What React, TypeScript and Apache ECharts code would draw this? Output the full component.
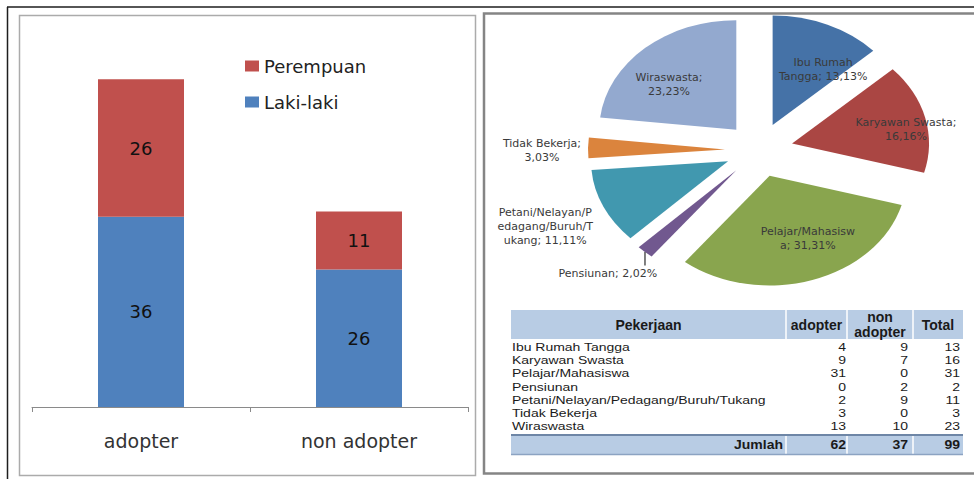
import React, { useEffect, useRef } from 'react';
import * as echarts from 'echarts';

// ---------- data ----------
const barCategories = ['adopter', 'non adopter'];
const lakiLaki = [36, 26];
const perempuan = [26, 11];

const jobs = [
  'Ibu Rumah Tangga',
  'Karyawan Swasta',
  'Pelajar/Mahasiswa',
  'Pensiunan',
  'Petani/Nelayan/Pedagang/Buruh/Tukang',
  'Tidak Bekerja',
  'Wiraswasta',
];
const jobAdopter = [4, 9, 31, 0, 2, 3, 13];
const jobNonAdopter = [9, 7, 0, 2, 9, 0, 10];
const jobTotal = [13, 16, 31, 2, 11, 3, 23];
const tableHeaders = ['Pekerjaan', 'adopter', 'non\nadopter', 'Total'];
const footerLabel = 'Jumlah';

// ---------- styles / layout ----------
const pieColors = ['#4572A7', '#AA4643', '#89A54E', '#71588F', '#4198AF', '#DB843D', '#93A9CF'];
const PIE = { cx: 759, cy: 150, r: 137, k: 0.8, explode: 34 };
const pieLabelLayout = [
  { angle: 32.6, dist: 119, breaks: [9] },
  { angle: 80.3, dist: 149, breaks: [16] },
  { angle: 156.2, dist: 121, breaks: [16] },
  { angle: 224.4, dist: 216, breaks: [], leader: true },
  { angle: 246, dist: 234, breaks: [16, 31] },
  { angle: 270, dist: 217, breaks: [14] },
  { angle: 312.5, dist: 122, breaks: [11] },
];
const FONT = 'DejaVu Sans, sans-serif';
const TFONT = 'Liberation Sans, Arial, sans-serif';

const sum = (a: number[]) => a.reduce((s, v) => s + v, 0);
const grand = sum(jobTotal);

function wrap(s: string, breaks: number[]) {
  const out: string[] = [];
  let prev = 0;
  for (const b of breaks) {
    out.push(s.slice(prev, b).trim());
    prev = b;
  }
  out.push(s.slice(prev).trim());
  return out;
}

const cum: [number, number][] = [];
{
  let acc = 0;
  for (const v of jobTotal) {
    const a0 = (acc / grand) * 360;
    acc += v;
    cum.push([a0, (acc / grand) * 360]);
  }
}

function buildTable() {
  const els: any[] = [];
  const L = 511, R = 963;
  const colR = [786, 847, 913, R];
  const headTop = 310, headH = 29;
  const footTop = 436, footH = 18;
  const rowY0 = 347, rowStep = 13.2;
  const numRight = [846, 908, 960];
  const fill = '#B8CCE4';
  const rowScale = 0.84;
  els.push({ type: 'rect', shape: { x: L, y: headTop, width: R - L, height: headH }, style: { fill } });
  els.push({ type: 'rect', shape: { x: L, y: footTop, width: R - L, height: footH }, style: { fill } });
  for (let c = 0; c < 3; c++) {
    els.push({ type: 'line', shape: { x1: colR[c], y1: headTop, x2: colR[c], y2: headTop + headH }, style: { stroke: '#fff', lineWidth: 1.5 } });
    els.push({ type: 'line', shape: { x1: colR[c], y1: footTop, x2: colR[c], y2: footTop + footH }, style: { stroke: '#fff', lineWidth: 1.5 } });
  }
  els.push({ type: 'line', shape: { x1: L, y1: footTop - 1, x2: R, y2: footTop - 1 }, style: { stroke: '#6E86A6', lineWidth: 2 } });
  els.push({ type: 'line', shape: { x1: L, y1: footTop + footH + 0.5, x2: R, y2: footTop + footH + 0.5 }, style: { stroke: '#8CA3C2', lineWidth: 1.5 } });
  const colL = [L, colR[0], colR[1], colR[2]];
  tableHeaders.forEach((h, c) => {
    els.push({
      type: 'text', x: (colL[c] + colR[c]) / 2, y: headTop + headH / 2,
      style: { text: h, font: `bold 14px ${TFONT}`, fill: '#1a1a1a', align: 'center', verticalAlign: 'middle', lineHeight: 15 },
    });
  });
  jobs.forEach((j, i) => {
    const y = rowY0 + i * rowStep;
    els.push({ type: 'text', x: L + 1, y, scaleY: rowScale, style: { text: j, font: `14px ${TFONT}`, fill: '#1a1a1a', align: 'left', verticalAlign: 'middle' } });
    [jobAdopter[i], jobNonAdopter[i], jobTotal[i]].forEach((v, c) => {
      els.push({ type: 'text', x: numRight[c], y, scaleY: rowScale, style: { text: String(v), font: `14px ${TFONT}`, fill: '#1a1a1a', align: 'right', verticalAlign: 'middle' } });
    });
  });
  const fy = footTop + footH / 2;
  els.push({ type: 'text', x: 783, y: fy, scaleY: 0.9, style: { text: footerLabel, font: `bold 14px ${TFONT}`, fill: '#1a1a1a', align: 'right', verticalAlign: 'middle' } });
  [sum(jobAdopter), sum(jobNonAdopter), sum(jobTotal)].forEach((v, c) => {
    els.push({ type: 'text', x: numRight[c], y: fy, scaleY: 0.9, style: { text: String(v), font: `bold 14px ${TFONT}`, fill: '#1a1a1a', align: 'right', verticalAlign: 'middle' } });
  });
  return els;
}

function buildFrames() {
  return [
    { type: 'line', shape: { x1: 7, y1: 7, x2: 974, y2: 7 }, style: { stroke: '#1e1e1e', lineWidth: 1.5 } },
    { type: 'line', shape: { x1: 7.5, y1: 7, x2: 7.5, y2: 479 }, style: { stroke: '#1e1e1e', lineWidth: 1.5 } },
    { type: 'rect', shape: { x: 19.5, y: 15.5, width: 456, height: 460 }, style: { fill: 'none', stroke: '#ababab', lineWidth: 1.5 } },
    { type: 'rect', shape: { x: 484, y: 13.5, width: 500, height: 460 }, style: { fill: 'none', stroke: '#858585', lineWidth: 2.5 } },
  ];
}

function renderPie(params: any) {
  const i = params.dataIndex;
  const [a0, a1] = cum[i];
  const mid = ((a0 + a1) / 2) * Math.PI / 180;
  const ox = PIE.explode * Math.sin(mid);
  const oy = -PIE.explode * Math.cos(mid);
  const children: any[] = [
    {
      type: 'group', x: PIE.cx, y: PIE.cy, scaleY: PIE.k,
      children: [{
        type: 'sector',
        shape: { cx: ox, cy: oy, r: PIE.r, r0: 0, startAngle: (a0 - 90) * Math.PI / 180, endAngle: (a1 - 90) * Math.PI / 180, clockwise: true },
        style: { fill: pieColors[i] },
      }],
    },
  ];
  const lay = pieLabelLayout[i];
  const la = lay.angle * Math.PI / 180;
  const lx = PIE.cx + lay.dist * Math.sin(la);
  const ly = PIE.cy - lay.dist * Math.cos(la) * PIE.k;
  const pct = ((jobTotal[i] / grand) * 100).toFixed(2).replace('.', ',') + '%';
  const lines = wrap(`${jobs[i]}; ${pct}`, lay.breaks);
  children.push({
    type: 'text', x: lx, y: ly,
    style: { text: lines.join('\n'), font: `11px ${FONT}`, fill: '#3a3a3a', align: 'center', verticalAlign: 'middle', lineHeight: 14 },
  });
  if (lay.leader) {
    const d = PIE.explode + PIE.r;
    const px = PIE.cx + d * Math.sin(mid);
    const py = PIE.cy - d * Math.cos(mid) * PIE.k;
    children.push({ type: 'line', shape: { x1: px, y1: py, x2: px, y2: ly - lines.length * 7 - 1 }, style: { stroke: '#555', lineWidth: 1.5 } });
  }
  return { type: 'group', children };
}

export default function App() {
  const ref = useRef<HTMLDivElement>(null);
  useEffect(() => {
    const chart = echarts.init(ref.current!, null, { renderer: 'svg' });
    const option: any = {
      animation: false,
      backgroundColor: '#fff',
      grid: { left: 32, right: 506, top: 37, bottom: 72 },
      legend: {
        data: ['Perempuan', 'Laki-laki'],
        orient: 'vertical', left: 240, top: 52,
        icon: 'rect', itemWidth: 14, itemHeight: 11, itemGap: 18,
        textStyle: { fontSize: 18, fontFamily: FONT, color: '#222' },
      },
      xAxis: {
        type: 'category', data: barCategories,
        axisLine: { lineStyle: { color: '#8a8a8a', width: 1 } },
        axisTick: { show: true, length: 5, alignWithLabel: false, lineStyle: { color: '#8a8a8a' } },
        axisLabel: { fontSize: 19, fontFamily: FONT, color: '#333', margin: 24 },
      },
      yAxis: { type: 'value', min: 0, max: 70, show: false },
      series: [
        {
          name: 'Laki-laki', type: 'bar', stack: 'g', data: lakiLaki, barWidth: 86,
          itemStyle: { color: '#4F81BD' },
          label: { show: true, position: 'inside', fontSize: 18, fontFamily: FONT, color: '#111' },
        },
        {
          name: 'Perempuan', type: 'bar', stack: 'g', data: perempuan, barWidth: 86,
          itemStyle: { color: '#C0504D' },
          label: { show: true, position: 'inside', fontSize: 18, fontFamily: FONT, color: '#111' },
        },
        {
          name: 'Pekerjaan', type: 'custom', coordinateSystem: 'none',
          data: jobTotal.map((v, i) => ({ name: jobs[i], value: v })),
          renderItem: renderPie,
        },
      ],
      graphic: [...buildFrames(), ...buildTable()],
    };
    chart.setOption(option);
    return () => chart.dispose();
  }, []);
  return <div ref={ref} style={{ position: 'fixed', left: 0, top: 0, width: 974, height: 479, background: '#fff' }} />;
}
